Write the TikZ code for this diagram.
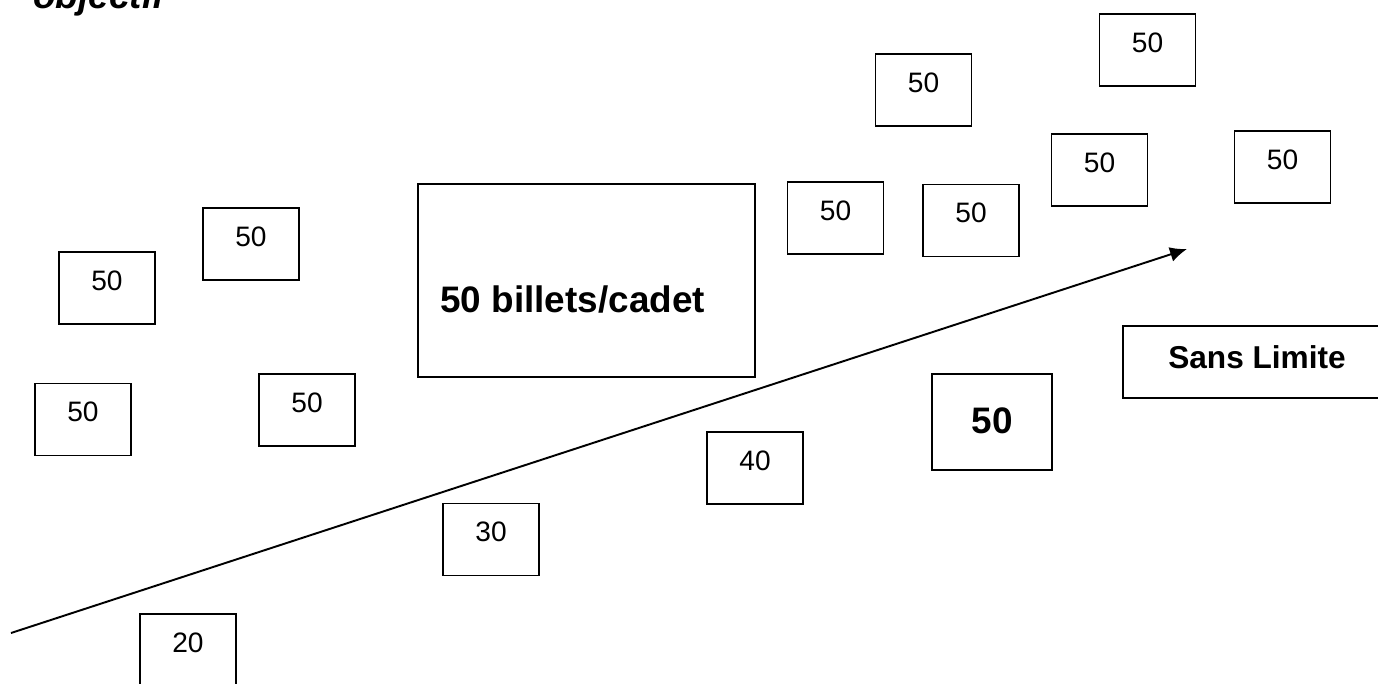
\documentclass[tikz,border=0pt]{standalone}
\usepackage{fontspec}
\setmainfont{Liberation Sans}
\usepackage{tikz}
\usetikzlibrary{arrows.meta,positioning}
\tikzset{>={Latex[length=0.34cm,width=0.3cm]}}
\tikzset{
    cell/.style={draw=black, line width=1.1pt, inner sep=0pt, minimum width=1.92cm, minimum height=1.44cm,
                 font=\fontsize{16}{19}\selectfont, text height=11.5pt, text depth=9pt},
    bigcell/.style={draw=black, line width=1.1pt, inner sep=0pt},
    boldtext/.style={font=\fontsize{21}{25}\selectfont\bfseries}
}

\begin{document}
\begin{tikzpicture}[x=0.02cm, y=-0.02cm]
                    \clip (0,0) rectangle (1378,683);
                    \node[anchor=base west, inner sep=0pt, font=\fontsize{21}{25}\selectfont\bfseries\itshape] (objectif) at (33,8) {objectif};
                    % petites cases
                    \node[cell] (haut1) at (923.5,90) {50};
                    \node[cell] (haut2) at (1147.5,50) {50};
                    \node[cell] (haut3) at (1099.5,170) {50};
                    \node[cell] (haut4) at (1282.5,167) {50};
                    \node[cell] (mil1) at (835.5,218) {50};
                    \node[cell] (mil2) at (971,220.5) {50};
                    \node[cell] (gauche1) at (251,244) {50};
                    \node[cell] (gauche2) at (107,288) {50};
                    \node[cell] (gauche3) at (83,419.5) {50};
                    \node[cell] (gauche4) at (307,410) {50};
                    \node[cell] (palier40) at (755,468) {40};
                    \node[cell] (palier30) at (491,539.5) {30};
                    \node[cell] (palier20) at (188,650) {20};
                    % grandes cases
                    \node[bigcell, minimum width=6.74cm, minimum height=3.86cm] (cadet) at (586.5,280.5) {};
                    \node[boldtext, anchor=base west, inner sep=0pt] (billets) at (440,312) {50 billets/cadet};
                    \node[bigcell, boldtext, minimum width=2.4cm, minimum height=1.92cm, text height=15pt, text depth=2pt] (palier50) at (992,422) {50};
                    \node[bigcell, minimum width=5.36cm, minimum height=1.44cm, font=\fontsize{18}{22}\selectfont\bfseries,
                          text height=12.9pt, text depth=5.6pt] (limite) at (1257,362) {Sans Limite};
                    % fleche
                    \coordinate (depart) at (11,633);
                    \coordinate (fin) at (1187,249);
                    \draw[->, line width=1.1pt] (depart) -- (fin);
                \end{tikzpicture}
\end{document}
